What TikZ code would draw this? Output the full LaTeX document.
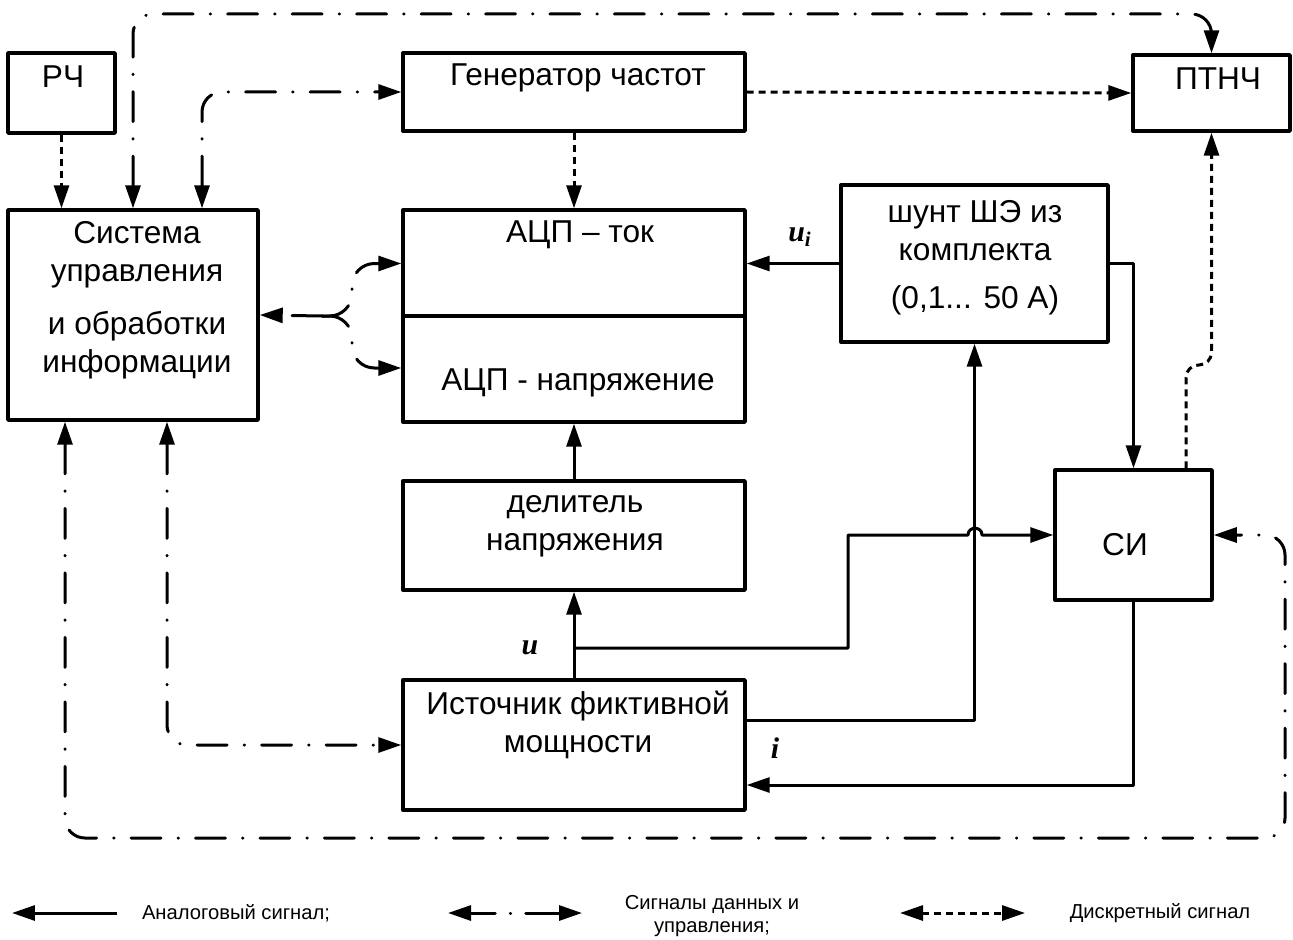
\documentclass[tikz,border=0pt]{standalone}
\usepackage{fontspec}
\setmainfont{Liberation Sans}
\newfontfamily\lblfont{Liberation Serif}
\usetikzlibrary{arrows.meta}
\begin{document}
\begin{tikzpicture}[x=0.02cm,y=-0.02cm,line join=round,font=\fontsize{18}{21.6}\selectfont,
  blk/.style={draw,line width=0.07cm,inner sep=0pt},
  sig/.style={line width=0.06cm},
  ctl/.style={line width=0.06cm,line cap=round,dash pattern=on 0.6cm off 0.34cm on 0.01cm off 0.34cm},
  dsc/.style={line width=0.06cm,dash pattern=on 0.14cm off 0.1cm},
  lbl/.style={font=\fontsize{17}{20}\selectfont\lblfont\bfseries\itshape},
  leg/.style={font=\fontsize{11.5}{13.5}\selectfont,align=center},
  >={Triangle[length=0.46cm,width=0.3cm]}]
  \useasboundingbox (0,0) rectangle (1293,939);
  \node[blk,minimum width=2.14cm,minimum height=1.6cm] (rf) at (61.5,93) {};
  \node[blk,minimum width=5cm,minimum height=4.2cm] (ctrl) at (133,315) {};
  \node[blk,minimum width=6.84cm,minimum height=1.56cm] (gen) at (574,92) {};
  \node[blk,minimum width=3.14cm,minimum height=1.52cm] (ptnch) at (1211.5,93) {};
  \node[blk,minimum width=6.84cm,minimum height=4.24cm] (adc) at (574,316) {};
  \node[blk,minimum width=5.34cm,minimum height=3.14cm] (shunt) at (974.5,263.5) {};
  \node[blk,minimum width=6.84cm,minimum height=2.18cm] (divider) at (574,535.5) {};
  \node[blk,minimum width=3.14cm,minimum height=2.6cm] (si) at (1133.5,535) {};
  \node[blk,minimum width=6.84cm,minimum height=2.6cm] (src) at (574,745) {};
  \draw[line width=0.09cm] (adc.west) -- (adc.east);

  \node (rf-t) at (63,77) {РЧ};
  \node[align=center] (ctrl-t) at (137,300) {Система\\управления\\[0.3cm]и обработки\\информации};
  \node (gen-t) at (578,78) {Генератор частот};
  \node (ptnch-t) at (1218,79) {ПТНЧ};
  \node (adc-i) at (580,235) {АЦП – ток};
  \node (adc-u) at (578,383) {АЦП - напряжение};
  \node[align=center] (shunt-t) at (975,258) {шунт ШЭ из\\комплекта\\[0.2cm](0,1... 50 А)};
  \node[align=center] (divider-t) at (575,526) {делитель\\напряжения};
  \node (si-t) at (1125,545) {СИ};
  \node[align=center] (src-t) at (578,725) {Источник фиктивной\\мощности};

  \draw[dsc,->] (rf.south) -- (rf.south |- ctrl.north);
  \draw[ctl,<->,rounded corners=0.4cm] (ctrl.north) |- (1211.5,14) -- (ptnch.north);
  \draw[ctl,<->,rounded corners=0.4cm] (202,0 |- ctrl.north) |- (gen.west);
  \draw[dsc,->] (gen.east) -- (ptnch.west);
  \draw[dsc,->] (gen.south) -- (adc.north);
  \draw[sig,->] (shunt.west) -- (shunt.west -| adc.east);
  \node[lbl] (ui) at (800,237) {u\textsubscript{i}};
  \draw[sig,->] (shunt.east) -| (si.north);
  \draw[dsc,->,rounded corners=0.25cm] (1186,0 |- si.north) |- (1211.5,365) -- (ptnch.south);

  \coordinate (fork) at (322,316);
  \draw[ctl,->] (fork) -- (ctrl.east);
  \draw[ctl,->,rounded corners=0.45cm] (fork) -| (352,263.5) -- (adc.west |- shunt.west);
  \draw[ctl,->,rounded corners=0.45cm] (fork) -| (352,368) -- (adc.west |- 0,368);

  \draw[ctl,<->,rounded corners=0.4cm] (65,0 |- ctrl.south) |- (1285,838) |- (si.east);
  \draw[ctl,<->,rounded corners=0.4cm] (167,0 |- ctrl.south) |- (src.west);

  \draw[sig,->] (divider.north) -- (adc.south);
  \draw[sig,->] (src.north) -- (divider.south);
  \coordinate (utap) at (574,648);
  \node[lbl] (u) at (530,648) {u};
  \draw[sig,->] (utap) -| (848,535) -- (968,535) .. controls (968,526) and (982,526) .. (982,535) -- (si.west);
  \draw[sig,->] (src.east |- 0,720) -| (shunt.south);
  \draw[sig,->] (si.south) |- (src.east |- 0,785);
  \node[lbl] (i) at (775,748) {i};

  \coordinate (l1a) at (12,913);
  \coordinate (l1b) at (117,913);
  \draw[sig,->] (l1b) -- (l1a);
  \node[leg] (l1-t) at (236,913) {Аналоговый сигнал;};
  \coordinate (l2a) at (448,913);
  \coordinate (l2b) at (582,913);
  \draw[sig,line cap=round,<->,dash pattern=on 0.5cm off 0.3cm on 0.01cm off 0.3cm on 1cm] (l2a) -- (l2b);
  \node[leg] (l2-t) at (712,916) {Сигналы данных и\\управления;};
  \coordinate (l3a) at (900,913);
  \coordinate (l3b) at (1025,913);
  \draw[dsc,<->] (l3a) -- (l3b);
  \node[leg] (l3-t) at (1160,913) {Дискретный сигнал};
\end{tikzpicture}
\end{document}
